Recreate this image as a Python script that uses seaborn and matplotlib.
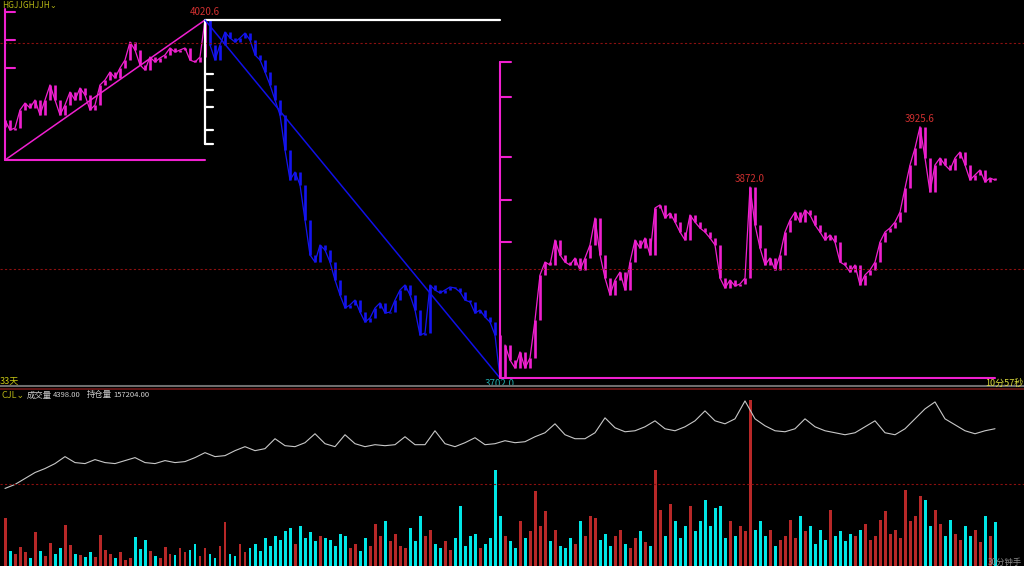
import numpy as np
import pandas as pd
import seaborn as sns
import matplotlib.pyplot as plt
from matplotlib.lines import Line2D

# 收盘价（每根K线一个值）
close = [
    3931.6, 3922.7, 3924.5, 3940.5, 3946.7, 3942.3, 3949.4, 3936.1, 3949.4, 3962.8,
    3949.4, 3936.1, 3945.0, 3956.5, 3949.4, 3960.1, 3953.9, 3940.5, 3945.0, 3962.8,
    3967.2, 3974.3, 3969.0, 3977.9, 3985.0, 4001.0, 3993.9, 3980.6, 3976.1, 3987.7,
    3983.2, 3986.8, 3989.5, 3995.7, 3992.1, 3993.9, 3995.7, 3985.0, 3983.2, 3987.7,
    4020.6, 3998.4, 3985.0, 3998.4, 4009.9, 4004.6, 4001.0, 4004.6, 4009.0, 4002.8,
    3989.5, 3985.0, 3974.3, 3962.8, 3949.4, 3936.1, 3904.9, 3878.2, 3885.3, 3873.8,
    3842.6, 3811.5, 3805.2, 3820.4, 3815.9, 3805.2, 3789.2, 3775.9, 3764.3, 3767.0,
    3771.4, 3760.7, 3751.8, 3755.4, 3764.3, 3768.8, 3759.8, 3760.7, 3771.4, 3780.3,
    3784.8, 3775.9, 3762.5, 3740.2, 3742.0, 3784.8, 3780.3, 3777.7, 3780.3, 3783.0,
    3782.1, 3778.6, 3771.4, 3769.7, 3759.8, 3762.5, 3756.3, 3751.8, 3740.2, 3702.0,
    3731.4, 3718.0, 3710.9, 3725.2, 3710.9, 3719.8, 3753.6, 3793.7, 3805.2, 3802.6,
    3824.8, 3811.5, 3805.2, 3802.6, 3808.8, 3798.1, 3808.8, 3820.4, 3844.4, 3811.5,
    3791.0, 3775.9, 3789.2, 3796.3, 3780.3, 3805.2, 3824.8, 3817.7, 3826.6, 3811.5,
    3853.3, 3856.0, 3844.4, 3848.8, 3840.8, 3831.9, 3824.8, 3847.1, 3840.8, 3835.5,
    3831.9, 3826.6, 3820.4, 3791.0, 3782.1, 3789.2, 3783.9, 3785.7, 3791.0, 3872.0,
    3838.2, 3817.7, 3802.6, 3808.8, 3798.1, 3811.5, 3831.9, 3842.6, 3849.7, 3840.8,
    3851.5, 3847.1, 3838.2, 3831.9, 3824.8, 3829.3, 3823.0, 3805.2, 3802.6, 3796.3,
    3802.6, 3784.8, 3793.7, 3798.1, 3805.2, 3823.0, 3831.9, 3835.5, 3840.8, 3849.7,
    3871.1, 3891.6, 3906.7, 3925.6, 3897.8, 3867.5, 3891.6, 3897.8, 3891.6, 3887.1,
    3897.8, 3903.1, 3891.6, 3878.2, 3882.7, 3887.1, 3876.4, 3880.0, 3878.2,
]
first_open = 3925.0

# 成交量
volume = [
    4800, 1500, 1200, 1900, 1400, 800, 3400, 1500, 1000, 2300,
    1200, 1800, 4100, 2100, 1200, 1100, 900, 1400, 900, 3100,
    1600, 1200, 800, 1400, 600, 800, 2900, 1700, 2600, 1500,
    1000, 800, 1900, 1200, 1100, 1800, 1400, 1600, 2200, 1000,
    1800, 1200, 800, 2000, 4400, 1200, 1000, 2200, 1400, 1800,
    2200, 1500, 2800, 2000, 3000, 2600, 3500, 3800, 2200, 4000,
    2800, 3400, 2500, 3000, 2800, 2600, 2000, 3200, 3000, 1800,
    2200, 1500, 2800, 2000, 4200, 3000, 4500, 2500, 3200, 2000,
    1800, 3800, 2500, 5000, 3000, 3600, 2200, 1800, 2500, 1600,
    2800, 6000, 2000, 3000, 3200, 1800, 2200, 2800, 9600, 5000,
    3000, 2500, 1800, 4500, 2800, 3500, 7500, 4000, 5500, 2500,
    3600, 2000, 1800, 2800, 2200, 4500, 3000, 5000, 4800, 2600,
    3200, 2000, 3000, 3600, 2200, 1800, 2800, 3500, 2400, 2000,
    9600, 5600, 3000, 6200, 4500, 2800, 4000, 6000, 3500, 4500,
    6600, 4000, 5800, 6000, 2800, 4500, 3000, 4000, 3500, 16600,
    3600, 4500, 3000, 3600, 2000, 2600, 3000, 4600, 2800, 5000,
    3500, 4000, 2200, 3600, 2600, 5600, 3000, 3500, 2500, 3200,
    3000, 3600, 4200, 2600, 3000, 4600, 5500, 3200, 3600, 2800,
    7600, 4500, 5000, 7000, 6600, 4000, 5600, 4200, 3000, 4600,
    3200, 2600, 4000, 3000, 3600, 2400, 5000, 3000, 4398,
]

# 持仓量（每两根K线一个值）
open_interest = [
    151200, 151600, 152200, 152800, 153200, 153700, 154400, 153800, 153700, 154100,
    153800, 153700, 154000, 154300, 153800, 153700, 154000, 153800, 153900, 154300,
    154800, 154400, 154500, 155000, 155400, 155000, 155200, 156200, 155500, 155400,
    155800, 156700, 155700, 155400, 156600, 155700, 155400, 155600, 155500, 155600,
    156400, 155600, 155600, 157000, 155700, 155400, 155800, 156300, 155600, 155700,
    156000, 155800, 155900, 156400, 156800, 157700, 156600, 156200, 156200, 156800,
    158300, 157300, 156900, 157000, 157400, 158000, 157200, 157000, 157400, 158000,
    159000, 158000, 157700, 158200, 160000, 158200, 157500, 157000, 156900, 157200,
    158200, 157400, 157000, 156800, 156600, 156800, 157400, 158000, 156800, 156600,
    157200, 158200, 159200, 159900, 158200, 157600, 157000, 156700, 157000, 157204,
]

# 画线工具（K线序号，价格）
ruler_a_x, ruler_a_top, ruler_a_low = 0, 4030.4, 3896.0
ruler_a_ticks = [4027.7, 4002.8, 3977.9]
trend_a = ([0, 40], [3896.0, 4020.6])
ruler_b_x, ruler_b_low = 40, 3910.3
ruler_b_ticks = [3972.5, 3958.3, 3943.2, 3922.7, 3910.3]
ruler_b_end = 99
trend_b = ([40, 99], [4020.6, 3702.0])
ruler_c_x, ruler_c_top = 99, 3983.2
ruler_c_ticks = [3983.2, 3952.1, 3898.7, 3860.4, 3823.0]
ruler_c_end = 198
dash_levels = [4000.1, 3799.0]
oi_dash = 151600
blue_range = (41, 98)

# 标注
hi_label = (40, 4020.6)
lo_label = (99, 3702.0)
mark_labels = [(149, 3872.0), (183, 3925.6)]

sns.set_theme(style="dark", rc={"axes.facecolor": "black", "figure.facecolor": "black"})
plt.rcParams['font.family'] = ['Noto Sans CJK SC', 'DejaVu Sans']

n = len(close)
idx = np.arange(n)
opens = np.array([first_open] + close[:-1])
closes = np.array(close)
lo = np.minimum(opens, closes)
hi = np.maximum(np.maximum(opens, closes), lo + 1.0)
mag = "#F020D0"
blue = "#1414F0"
cols = [blue if blue_range[0] <= i <= blue_range[1] else mag for i in idx]

fig = plt.figure(figsize=(10.24, 5.66), dpi=100)
W, H = 1024, 566
ax_p = fig.add_axes([0, 180 / H, 1, 386 / H])
ax_v = fig.add_axes([0, 0, 1, 177 / H])
xlim = (-1, (W - 5) / 5)

# K线
ax_p.vlines(idx, lo, hi, colors=cols, lw=1.9)
seg = pd.DataFrame({"i": idx, "close": closes,
                    "part": [0 if i < blue_range[0] else 1 if i <= blue_range[1] + 1 else 2
                             for i in idx]})
for part, color in [(0, mag), (1, blue), (2, mag)]:
    s = seg[seg.part == part]
    sns.lineplot(data=s, x="i", y="close", color=color, lw=0.9, ax=ax_p)
for lvl in dash_levels:
    ax_p.axhline(lvl, color="#8B1010", lw=0.8, ls=(0, (2, 2)))

# 画线
ax_p.plot([ruler_a_x, ruler_a_x], [ruler_a_top, ruler_a_low], color=mag, lw=1.5)
for t in ruler_a_ticks:
    ax_p.plot([ruler_a_x, ruler_a_x + 2], [t, t], color=mag, lw=1.5)
ax_p.plot([ruler_a_x, trend_a[0][1]], [ruler_a_low, ruler_a_low], color=mag, lw=1.5)
ax_p.plot(*trend_a, color=mag, lw=1.1)

ax_p.plot([ruler_b_x, ruler_b_x], [trend_b[1][0], ruler_b_low], color="white", lw=1.6)
for t in ruler_b_ticks:
    ax_p.plot([ruler_b_x, ruler_b_x + 1.6], [t, t], color="white", lw=1.6)
ax_p.plot([ruler_b_x, ruler_b_end], [trend_b[1][0]] * 2, color="white", lw=1.6)
ax_p.plot(*trend_b, color="#1010E8", lw=1.1)

ax_p.plot([ruler_c_x, ruler_c_x], [ruler_c_top, trend_b[1][1]], color=mag, lw=1.5)
for t in ruler_c_ticks:
    ax_p.plot([ruler_c_x, ruler_c_x + 2.2], [t, t], color=mag, lw=1.5)
ax_p.plot([ruler_c_x, ruler_c_end], [trend_b[1][1]] * 2, color=mag, lw=1.5)

ax_p.annotate(f"{hi_label[1]:.1f}", hi_label, xytext=(0, 2), textcoords="offset points",
              ha="center", va="bottom", color="#D03030", fontsize=7)
ax_p.annotate(f"{lo_label[1]:.1f}", lo_label, xytext=(0, -1), textcoords="offset points",
              ha="center", va="top", color="#20A8A8", fontsize=7)
for i, p in mark_labels:
    ax_p.annotate(f"{p:.1f}", (i, p), xytext=(0, 2), textcoords="offset points",
                  ha="center", va="bottom", color="#D03030", fontsize=7)

ax_p.set_xlim(xlim)
ax_p.set_ylim(3694.9, 4038.4)
ax_p.set_axis_off()

# 成交量
df = pd.DataFrame({"i": idx, "vol": volume,
                   "dir": np.where(closes >= opens, "up", "down")})
sns.barplot(data=df, x="i", y="vol", hue="dir", native_scale=True, dodge=False,
            palette={"up": "#B82828", "down": "#00E6E6"}, saturation=1,
            width=0.6, errorbar=None, legend=False, edgecolor="none", linewidth=0,
            ax=ax_v)
ax_v.set_xlim(xlim)
ax_v.set_ylim(0, 17700)
ax_v.set_axis_off()

# 持仓量
ax_oi = ax_v.twinx()
sns.lineplot(x=idx[::2], y=open_interest, color="#C8C8C8", lw=0.8, ax=ax_oi)
ax_oi.axhline(oi_dash, color="#8B1010", lw=0.8, ls=(0, (2, 2)))
ax_oi.set_xlim(xlim)
ax_oi.set_ylim(143400, 161200)
ax_oi.set_axis_off()

# 分隔线
fig.add_artist(Line2D([0, 1], [1 - 385.5 / H] * 2, color="#6E6E6E", lw=1.5))
fig.add_artist(Line2D([0, 1], [1 - 388.5 / H] * 2, color="#701818", lw=1.2))

# 文字
fig.text(2 / W, 1 - 5 / H, "HGJJGHJJH⌄", color="#B4B414", fontsize=6, va="center")
fig.text(0, 1 - 381 / H, "33天", color="#C8C814", fontsize=6.5, va="center")
fig.text(1023 / W, 1 - 383 / H, "10分57秒", color="#DCDC3C", fontsize=6.5,
         va="center", ha="right")
fig.text(2 / W, 1 - 395 / H, "CJL⌄", color="#B4B414", fontsize=6.5, va="center")
fig.text(27 / W, 1 - 395 / H, "成交量", color="#D0D0D0", fontsize=6, va="center")
fig.text(53 / W, 1 - 395 / H, f"{volume[-1]:.2f}", color="#D0D0D0", fontsize=5.5,
         va="center")
fig.text(87 / W, 1 - 395 / H, "持仓量", color="#D0D0D0", fontsize=6, va="center")
fig.text(113 / W, 1 - 395 / H, f"{open_interest[-1]:.2f}", color="#D0D0D0",
         fontsize=5.5, va="center")
fig.text(1022 / W, 1 - 562 / H, "30分钟手", color="#8A8A8A", fontsize=6,
         va="center", ha="right")

fig.savefig("out.png", dpi=100, facecolor="black")
